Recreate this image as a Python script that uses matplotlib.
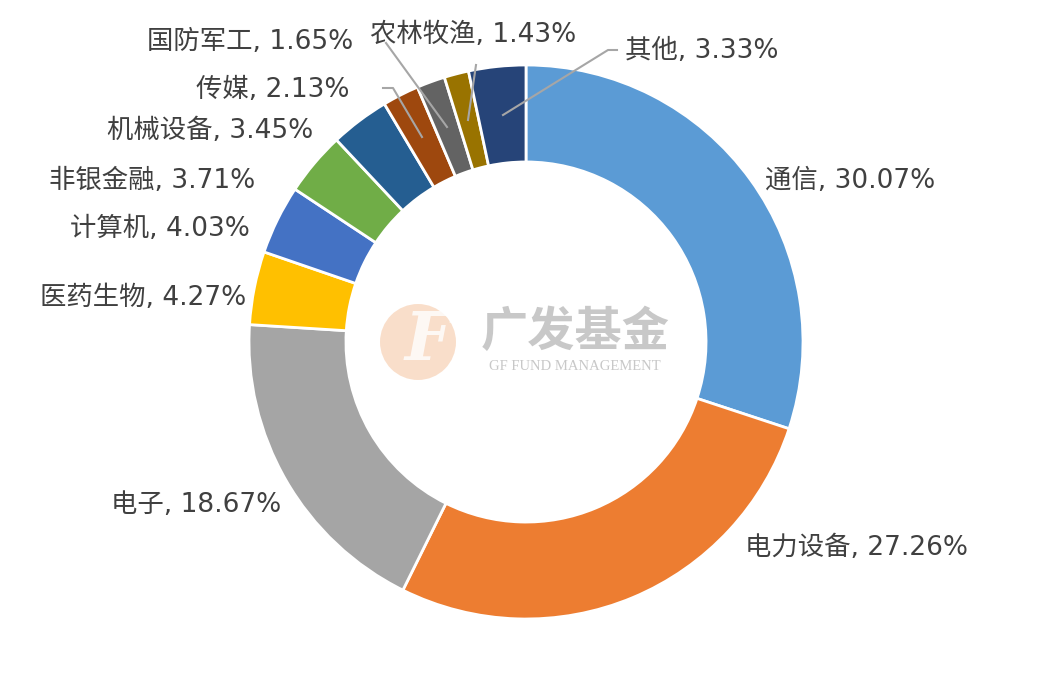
import numpy as np
import matplotlib
matplotlib.use("Agg")
import matplotlib.pyplot as plt
from matplotlib.patches import Circle

plt.rcParams['font.family'] = ['DejaVu Sans', 'Noto Sans CJK SC']

# data
industries = ['通信', '电力设备', '电子', '医药生物', '计算机', '非银金融',
              '机械设备', '传媒', '国防军工', '农林牧渔', '其他']
weights = [30.07, 27.26, 18.67, 4.27, 4.03, 3.71, 3.45, 2.13, 1.65, 1.43, 3.33]
colors = ['#5B9BD5', '#ED7D31', '#A5A5A5', '#FFC000', '#4472C4', '#70AD47',
          '#255E91', '#9E480E', '#636363', '#997300', '#264478']

W, H = 1051, 687
fig = plt.figure(figsize=(W / 100, H / 100), dpi=100)
ax = fig.add_axes([0, 0, 1, 1])

cx, cy, R = 526, H - 342, 277
ax.pie(weights, colors=colors, startangle=90, counterclock=False,
       center=(cx, cy), radius=R, frame=True,
       wedgeprops=dict(width=R * 0.35, edgecolor='white', linewidth=2))
ax.set_xlim(0, W)
ax.set_ylim(0, H)
ax.set_aspect('equal')
ax.axis('off')

# label positions (pixel coords from top) and alignment
lab_pos = {
    '通信': (765, 181, 'left'),
    '电力设备': (745, 548, 'left'),
    '电子': (281, 505, 'right'),
    '医药生物': (246, 298, 'right'),
    '计算机': (250, 229, 'right'),
    '非银金融': (255, 181, 'right'),
    '机械设备': (313, 131, 'right'),
    '传媒': (350, 90, 'right'),
    '国防军工': (353, 42, 'right'),
    '农林牧渔': (370, 35, 'left'),
    '其他': (625, 51, 'left'),
}
for name, w in zip(industries, weights):
    x, y, ha = lab_pos[name]
    ax.text(x, H - y, f'{name}, {w:.2f}%', ha=ha, va='center',
            fontsize=19, color='#404040')

# leader lines
leaders = [
    [(383, 88), (393, 88), (422, 137)],
    [(386, 43), (447, 127)],
    [(476, 65), (468, 120)],
    [(617, 50), (608, 50), (503, 115)],
]
for pts in leaders:
    xs = [p[0] for p in pts]
    ys = [H - p[1] for p in pts]
    ax.plot(xs, ys, color='#A6A6A6', lw=1.5)

# watermark
ax.add_patch(Circle((418, H - 342), 38, color='#F6C9A8', alpha=0.6, lw=0))
ax.text(428, H - 342, 'F', fontsize=48, color='white', fontweight='bold',
        fontstyle='italic', family='DejaVu Serif', ha='center', va='center',
        alpha=0.8)
ax.text(575, H - 332, '广发基金', fontsize=34, color='#C8C8C8',
        fontweight='bold', family='Noto Sans CJK SC', ha='center', va='center')
ax.text(575, H - 367, 'GF FUND MANAGEMENT', fontsize=10.5, color='#C8C8C8',
        family='Liberation Serif', ha='center', va='center')

fig.savefig('out.png', dpi=100, facecolor='white')
